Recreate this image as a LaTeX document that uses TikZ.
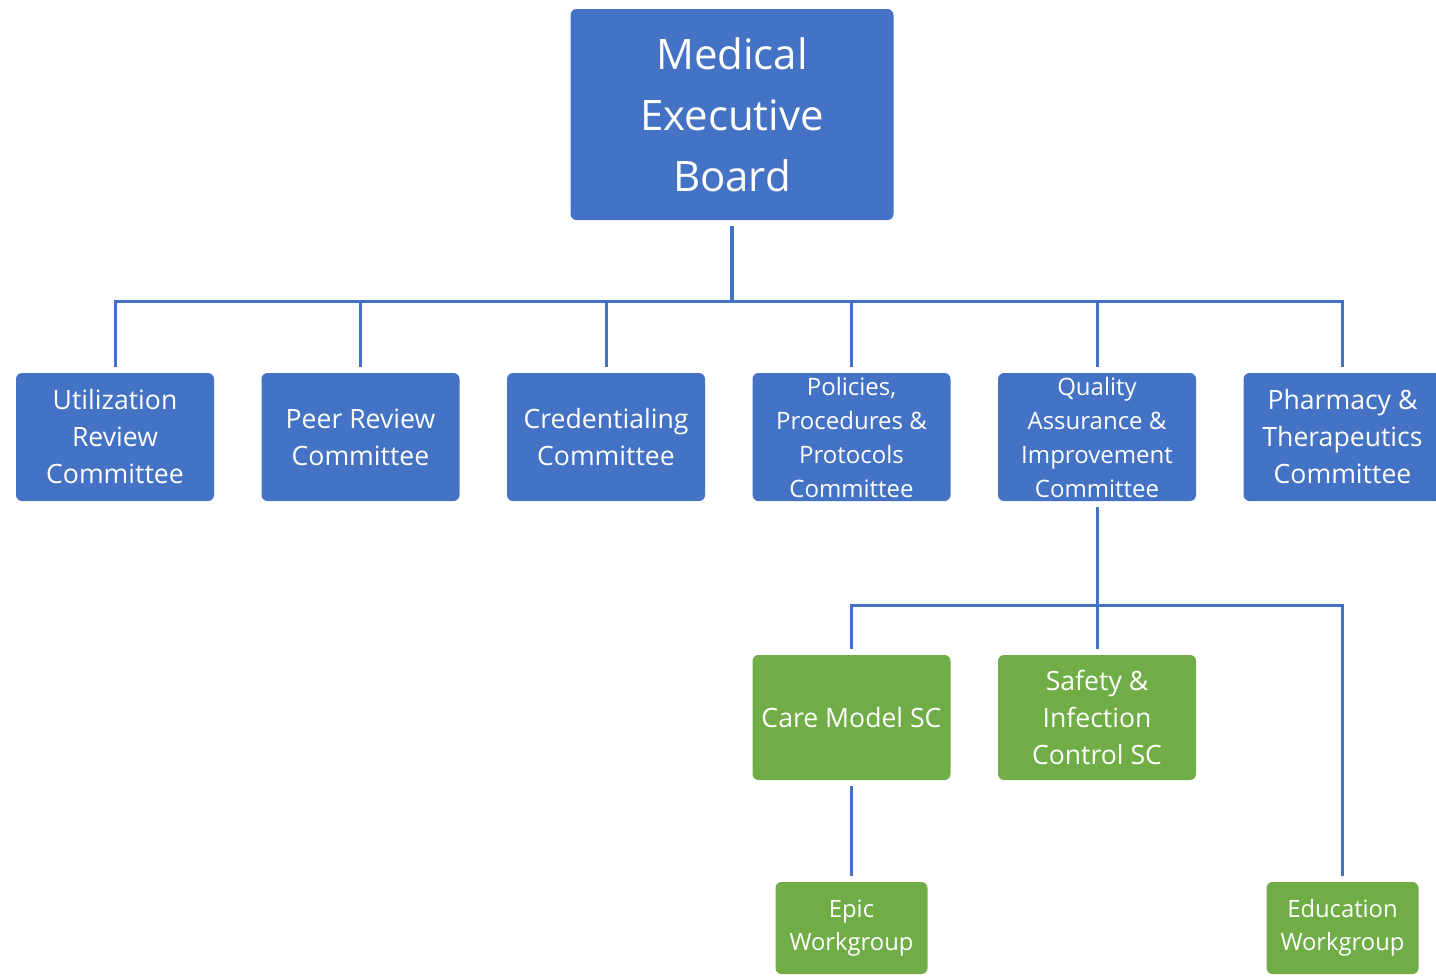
\documentclass[tikz,border=0pt]{standalone}
\usepackage{fontspec}
\setmainfont{Open Sans}
\usepackage{tikz}
\usetikzlibrary{positioning}
\definecolor{orgblue}{HTML}{4472C4}
\definecolor{orggreen}{HTML}{70AD47}

\begin{document}
\begin{tikzpicture}[node distance=23.75pt,
  box/.style={rectangle, rounded corners=3pt, text=white, align=center, inner sep=0pt, outer sep=0pt},
  board/.style={box, fill=orgblue, minimum width=161.5pt, minimum height=105.5pt, font=\fontsize{21}{30.5}\selectfont},
  cmte/.style={box, fill=orgblue, minimum width=99pt, minimum height=64pt, font=\fontsize{13.3}{18.5}\selectfont},
  smallcmte/.style={cmte, font=\fontsize{12}{17}\selectfont},
  subc/.style={box, fill=orggreen, minimum width=99pt, minimum height=62.5pt, font=\fontsize{13.3}{18.5}\selectfont},
  wkgp/.style={box, fill=orggreen, minimum width=76pt, minimum height=46pt, font=\fontsize{11.9}{16.5}\selectfont},
  link/.style={draw=orgblue, line width=1.5pt},
  trunk/.style={link, line width=2pt}]
\useasboundingbox (0pt,0pt) rectangle (718pt,-488pt);
% board and committees
\node[board] (meb) at (366pt,-57.25pt) {Medical\\Executive\\Board};
\node[cmte] (urc) at (57.5pt,-218.5pt) {Utilization\\Review\\Committee};
\node[cmte, right=of urc] (prc) {Peer Review\\Committee};
\node[cmte, right=of prc] (crc) {Credentialing\\Committee};
\node[smallcmte, right=of crc] (ppc) {Policies,\\Procedures \&\\Protocols\\Committee};
\node[smallcmte, right=of ppc] (qac) {Quality\\Assurance \&\\Improvement\\Committee};
\node[cmte, right=of qac] (ptc) {Pharmacy \&\\Therapeutics\\Committee};
% subcommittees and workgroups
\node[subc, below=77pt of ppc] (cms) {Care Model SC};
\node[subc, right=of cms] (sic) {Safety \&\\Infection\\Control SC};
\node[wkgp, below=51pt of cms] (epw) {Epic\\Workgroup};
\node[wkgp] (edw) at (ptc |- epw) {Education\\Workgroup};
% connectors
\coordinate (bus) at ([yshift=-40.5pt]meb.south);
\coordinate (qbus) at ([yshift=-52pt]qac.south);
\draw[trunk] ([yshift=-3pt]meb.south) -- (bus);
\draw[link] (bus) -| ([yshift=3pt]urc.north);
\draw[link] (bus) -| ([yshift=3pt]prc.north);
\draw[link] (bus) -| ([yshift=3pt]crc.north);
\draw[link] (bus) -| ([yshift=3pt]ppc.north);
\draw[link] (bus) -| ([yshift=3pt]qac.north);
\draw[link] (bus) -| ([yshift=3pt]ptc.north);
\draw[link] ([yshift=-3pt]qac.south) -- (qbus);
\draw[link] (qbus) -| ([yshift=3pt]cms.north);
\draw[link] (qbus) -| ([yshift=3pt]sic.north);
\draw[link] (qbus) -| ([yshift=3pt]edw.north);
\draw[link] ([yshift=-3pt]cms.south) -- ([yshift=3pt]epw.north);
\end{tikzpicture}
\end{document}
